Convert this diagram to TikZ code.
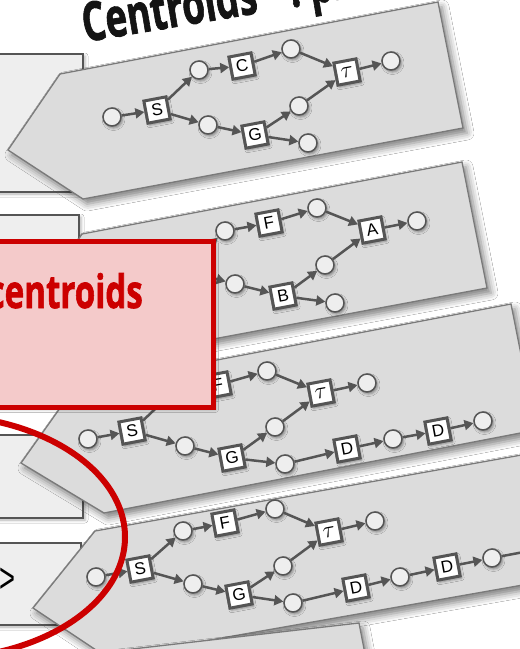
\documentclass[tikz,border=0pt]{standalone}
\usepackage{fontspec}
\setmainfont{Liberation Sans}
\newfontfamily\titlefont[BoldFeatures={FakeBold=1.6}]{Open Sans}
\usetikzlibrary{arrows.meta,shadows.blur}
\definecolor{boxfill}{HTML}{EEEEEE}
\definecolor{slabfill}{HTML}{DCDCDC}
\definecolor{edgegray}{HTML}{555555}
\definecolor{slabedge}{HTML}{7A7A7A}
\definecolor{redc}{HTML}{CC0000}
\definecolor{pinkc}{HTML}{F4CACA}
\tikzset{
  leftbox/.style={fill=boxfill, draw=edgegray, line width=1.5pt,
    blur shadow={shadow xshift=2pt, shadow yshift=-2pt, shadow blur radius=3pt, shadow opacity=30}},
  slab/.style={fill=slabfill, draw=slabedge, line width=1.3pt,
    blur shadow={shadow xshift=4pt, shadow yshift=-5pt, shadow blur radius=7pt, shadow opacity=50}},
  cnode/.style={circle, fill=boxfill, draw=edgegray, line width=1.5pt, minimum size=18pt, inner sep=0pt,
    blur shadow={shadow xshift=1.5pt, shadow yshift=-2pt, shadow blur radius=2.5pt, shadow opacity=40}},
  snode/.style={rectangle, fill=white, draw=edgegray, line width=3pt, minimum size=22.5pt, inner sep=0pt,
    rotate=10.7, font=\fontsize{17}{17}\selectfont,
    blur shadow={shadow xshift=1.5pt, shadow yshift=-2pt, shadow blur radius=2.5pt, shadow opacity=40}},
  arr/.style={draw=edgegray, line width=2.5pt, -{Triangle[length=9pt,width=10pt]}},
}
\newcommand{\tauglyph}{\scalebox{1.35}{$\tau$}}
\begin{document}
\begin{tikzpicture}[x=1pt,y=-1pt]
\useasboundingbox (0,0) rectangle (520,649);
\clip (0,0) rectangle (520,649);
\fill[white] (0,0) rectangle (520,649);
% left column boxes
\path[leftbox] (-10,54) rectangle (83,192);
\path[leftbox] (-10,215) rectangle (79,380);
\path[leftbox] (-10,435) rectangle (83,518);
\path[leftbox] (-10,543) rectangle (81,625);
\node[anchor=east, inner sep=0pt, font=\fontsize{42}{42}\selectfont] (gt) at (16,580) {\scalebox{0.65}[1]{>}};
% slabs
\path[slab] (8,150) -- (60,74) -- (438,2) -- (463,128) -- (83,199) -- cycle;
\path[slab] (31,310) -- (82,234) -- (462,162) -- (487,288) -- (106,359) -- cycle;
\path[slab] (21,463) -- (75,387) -- (511,304) -- (536,430) -- (104,513) -- cycle;
\path[slab] (33,608) -- (95,531) -- (600,441) -- (625,567) -- (108,658) -- cycle;
\path[slab] (60,680) -- (80,655) -- (359,623) -- (372,690) -- cycle;
% graph 1
\node[cnode] (a0) at (112,117) {};
\node[snode] (aS) at (157,110) {S};
\node[cnode] (a1) at (199,70) {};
\node[snode] (aC) at (242,66) {C};
\node[cnode] (a2) at (291,49) {};
\node[snode] (aT) at (347,72) {\tauglyph};
\node[cnode] (a3) at (391,61) {};
\node[cnode] (a4) at (208,125) {};
\node[snode] (aG) at (255,135) {G};
\node[cnode] (a5) at (299,106) {};
\node[cnode] (a6) at (308,143) {};
\draw[arr] (a0)--(aS); \draw[arr] (aS)--(a1); \draw[arr] (a1)--(aC);
\draw[arr] (aC)--(a2); \draw[arr] (a2)--(aT); \draw[arr] (aT)--(a3);
\draw[arr] (aS)--(a4); \draw[arr] (a4)--(aG); \draw[arr] (aG)--(a5);
\draw[arr] (a5)--(aT); \draw[arr] (aG)--(a6);
% graph 2
\node[cnode] (b0) at (138,277) {};
\node[snode] (bS) at (183,270) {S};
\node[cnode] (b1) at (225,231) {};
\node[snode] (bF) at (269,223) {F};
\node[cnode] (b2) at (317,208) {};
\node[snode] (bA) at (372,230) {A};
\node[cnode] (b3) at (417,221) {};
\node[cnode] (b4) at (235,284) {};
\node[snode] (bB) at (283,296) {B};
\node[cnode] (b5) at (325,265) {};
\node[cnode] (b6) at (335,303) {};
\draw[arr] (b0)--(bS); \draw[arr] (bS)--(b1); \draw[arr] (b1)--(bF);
\draw[arr] (bF)--(b2); \draw[arr] (b2)--(bA); \draw[arr] (bA)--(b3);
\draw[arr] (bS)--(b4); \draw[arr] (b4)--(bB); \draw[arr] (bB)--(b5);
\draw[arr] (b5)--(bA); \draw[arr] (bB)--(b6);
% graph 3
\node[cnode] (c0) at (88,439) {};
\node[snode] (cS) at (132,431) {S};
\node[cnode] (c1) at (174,391) {};
\node[snode] (cF) at (218,385) {F};
\node[cnode] (c2) at (267,371) {};
\node[snode] (cT) at (321,393) {\tauglyph};
\node[cnode] (c3) at (367,383) {};
\node[cnode] (c4) at (185,446) {};
\node[snode] (cG) at (232,458) {G};
\node[cnode] (c5) at (275,427) {};
\node[cnode] (c6) at (285,464) {};
\node[snode] (cD1) at (347,449) {D};
\node[cnode] (c7) at (393,439) {};
\node[snode] (cD2) at (438,431) {D};
\node[cnode] (c8) at (483,421) {};
\draw[arr] (c0)--(cS); \draw[arr] (cS)--(c1); \draw[arr] (c1)--(cF);
\draw[arr] (cF)--(c2); \draw[arr] (c2)--(cT); \draw[arr] (cT)--(c3);
\draw[arr] (cS)--(c4); \draw[arr] (c4)--(cG); \draw[arr] (cG)--(c5);
\draw[arr] (c5)--(cT); \draw[arr] (cG)--(c6); \draw[arr] (c6)--(cD1);
\draw[arr] (cD1)--(c7); \draw[arr] (c7)--(cD2); \draw[arr] (cD2)--(c8);
% graph 4
\node[cnode] (d0) at (96,577) {};
\node[snode] (dS) at (140,569) {S};
\node[cnode] (d1) at (183,531) {};
\node[snode] (dF) at (225,523) {F};
\node[cnode] (d2) at (275,509) {};
\node[snode] (dT) at (329,532) {\tauglyph};
\node[cnode] (d3) at (375,521) {};
\node[cnode] (d4) at (193,584) {};
\node[snode] (dG) at (239,595) {G};
\node[cnode] (d5) at (283,566) {};
\node[cnode] (d6) at (293,603) {};
\node[snode] (dD1) at (356,588) {D};
\node[cnode] (d7) at (400,577) {};
\node[snode] (dD2) at (447,567) {D};
\node[cnode] (d8) at (492,558) {};
\coordinate (d9) at (545,548);
\draw[arr] (d0)--(dS); \draw[arr] (dS)--(d1); \draw[arr] (d1)--(dF);
\draw[arr] (dF)--(d2); \draw[arr] (d2)--(dT); \draw[arr] (dT)--(d3);
\draw[arr] (dS)--(d4); \draw[arr] (d4)--(dG); \draw[arr] (dG)--(d5);
\draw[arr] (d5)--(dT); \draw[arr] (dG)--(d6); \draw[arr] (d6)--(dD1);
\draw[arr] (dD1)--(d7); \draw[arr] (d7)--(dD2); \draw[arr] (dD2)--(d8);
\draw[arr] (d8)--(d9);
% red box
\path[fill=pinkc, draw=redc, line width=5pt,
  blur shadow={shadow xshift=2pt, shadow yshift=-2pt, shadow blur radius=3pt, shadow opacity=30}]
  (-20,241.5) rectangle (213.5,407.5);
\node[anchor=base east, inner sep=0pt, text=redc,
  font=\titlefont\bfseries\fontsize{46}{46}\selectfont] (cen) at (143,308) {\scalebox{0.72}[1]{centroids}};
% red ellipse
\draw[redc, line width=6pt] (-65,537) ellipse [x radius=190, y radius=122];
% title
\node[rotate=9.5, anchor=base west, inner sep=0pt, text=black!92,
  font=\titlefont\bfseries\fontsize{54}{54}\selectfont] (title) at (85,42) {\scalebox{0.68}[1]{Centroids\hspace{0.9em}:\hspace{0.25em}pr}};
\end{tikzpicture}
\end{document}
